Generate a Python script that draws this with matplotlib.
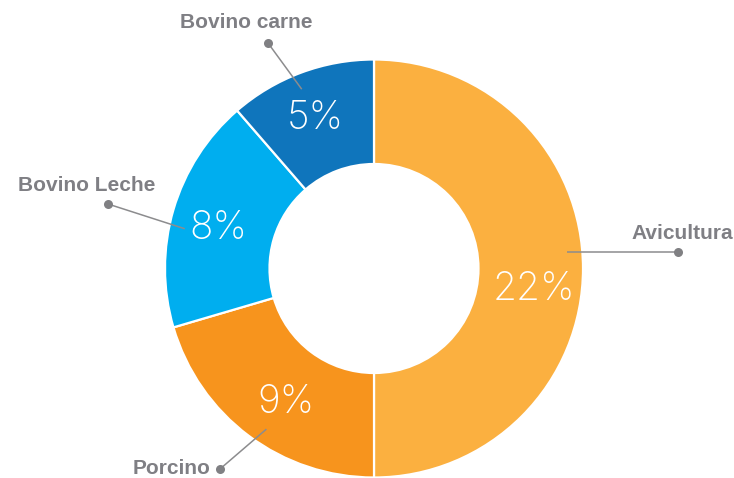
import numpy as np
import matplotlib
matplotlib.use("Agg")
import matplotlib.pyplot as plt

categories = ["Avicultura", "Porcino", "Bovino Leche", "Bovino carne"]
values = [22, 9, 8, 5]
pct_labels = ["22%", "9%", "8%", "5%"]
colors = ["#FBB040", "#F7941D", "#00AEEF", "#0F75BC"]

W, H = 734, 478
fig = plt.figure(figsize=(W / 100, H / 100), dpi=100)
ax = fig.add_axes([0, 0, 1, 1])

cx, cy, R = 374, H - 268.5, 209
wedges, _ = ax.pie(values, colors=colors, startangle=90, counterclock=False,
                   center=(cx, cy), radius=R, frame=True,
                   wedgeprops=dict(width=R * 0.5, edgecolor="white", linewidth=1.6))
ax.set_xlim(0, W)
ax.set_ylim(0, H)
ax.set_aspect("equal")
ax.axis("off")

layout = {
    "Avicultura": dict(pang=-7.5, line_ang=4.8, dot=(678, 252), lab=(733, 233), ha="right"),
    "Porcino": dict(pang=3.5, line_ang=3.0, dot=(220, 469), lab=(210, 469), ha="right"),
    "Bovino Leche": dict(pang=1.8, line_ang=4.5, dot=(108, 204), lab=(155, 185), ha="right"),
    "Bovino carne": dict(pang=1.0, line_ang=1.5, dot=(268, 43), lab=(246, 22), ha="center"),
}

gray = "#8C8C8E"
for w, cat, pl in zip(wedges, categories, pct_labels):
    mid = 0.5 * (w.theta1 + w.theta2)
    L = layout[cat]
    a = np.deg2rad(mid + L["pang"])
    r = R * 0.77
    ax.text(cx + r * np.cos(a), cy + r * np.sin(a), pl, color="white",
            fontsize=28, fontfamily="Inter", fontweight="light",
            ha="center", va="center")
    b = np.deg2rad(mid + L["line_ang"])
    rs = R * 0.925
    sx, sy = cx + rs * np.cos(b), cy + rs * np.sin(b)
    dx, dy = L["dot"]
    dy = H - dy
    if cat == "Avicultura":
        sy = dy
    ax.plot([sx, dx], [sy, dy], color=gray, lw=1.1, solid_capstyle="butt")
    ax.plot([dx], [dy], "o", color="#808083", ms=6.5, mec="none")
    lx, ly = L["lab"]
    ax.text(lx, H - ly, cat, color="#7F7F84", fontsize=15, fontweight="bold",
            fontfamily="Liberation Sans", ha=L["ha"], va="center")

fig.savefig("out.png", dpi=100)
